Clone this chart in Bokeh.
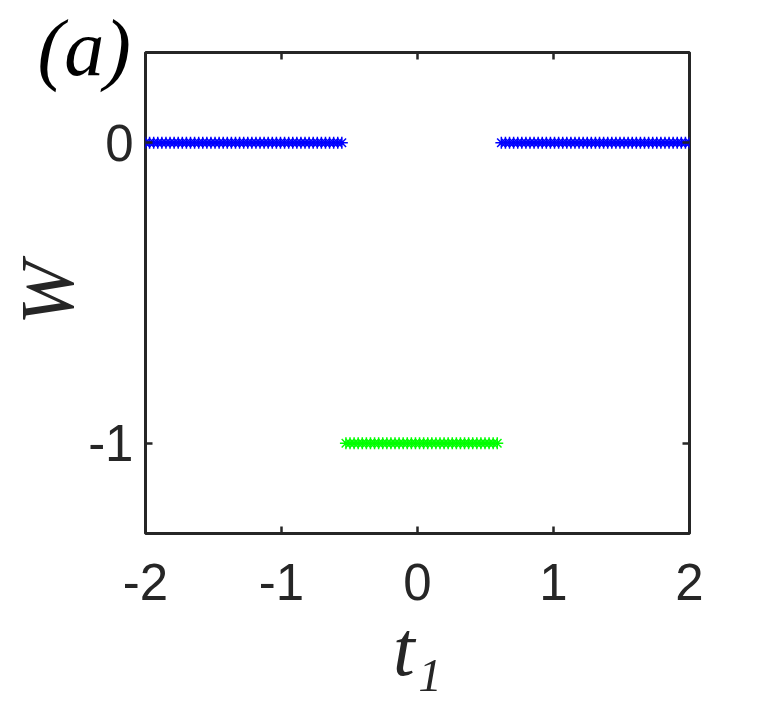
import numpy as np
from bokeh.plotting import figure
from bokeh.models import LinearAxis, FixedTicker, Range1d, Title
from bokeh.embed import file_html
from bokeh.resources import INLINE

# ---- data ----
t1_grid = np.linspace(-2.0, 2.0, 134)        # parameter sweep of t1
phase_edges = [-0.555, 0.595]                 # transitions between phases
w_left, w_mid, w_right = 0, -1, 0             # winding number in each phase
x_ticks = [-2, -1, 0, 1, 2]
x_tick_labels = {-2: "-2", -1: "-1", 0: "0", 1: "1", 2: "2"}
y_ticks = [-1, 0]
y_tick_labels = {-1: "-1", 0: "0"}
x_range = (-2, 2)
y_range = (-1.3, 0.3)

t_left = [t for t in t1_grid if t < phase_edges[0]]
t_mid = [t for t in t1_grid if phase_edges[0] <= t <= phase_edges[1]]
t_right = [t for t in t1_grid if t > phase_edges[1]]

W = 746
H = 705
FL, FR, FT, FB = 145, 689, 52, 533
p = figure(width=W, height=H, output_backend="svg", toolbar_location=None,
           x_range=Range1d(*x_range), y_range=Range1d(*y_range),
           x_axis_location=None, y_axis_location=None,
           min_border_left=FL, min_border_right=W - FR,
           min_border_top=FT, min_border_bottom=H - FB)
p.grid.visible = False
p.background_fill_color = "white"
p.border_fill_color = "white"
p.outline_line_color = "#262626"
p.outline_line_width = 3

ink = "#262626"
serif = "Liberation Serif"

def make_axis(ticks, labels, standoff):
    ax = LinearAxis(ticker=FixedTicker(ticks=ticks))
    ax.axis_line_color = None
    ax.major_tick_in = 7
    ax.major_tick_out = 0
    ax.major_tick_line_color = ink
    ax.major_tick_line_width = 2.5
    ax.minor_tick_line_color = None
    if labels is not None:
        ax.major_label_overrides = labels
        ax.major_label_text_font = "Liberation Sans"
        ax.major_label_text_font_size = "51px"
        ax.major_label_text_color = ink
        ax.major_label_standoff = standoff
    else:
        ax.major_label_text_font_size = "1px"
        ax.major_label_text_color = None
        ax.major_label_standoff = 0
    return ax

xb = make_axis(x_ticks, x_tick_labels, 30)
xb.axis_label = "t\u2081"
xb.axis_label_text_font = serif
xb.axis_label_text_font_style = "italic"
xb.axis_label_text_font_size = "78px"
xb.axis_label_text_color = ink
xb.axis_label_standoff = 2
p.add_layout(xb, "below")
p.add_layout(make_axis(x_ticks, None, 0), "above")

# panel tag (a) as a title hanging into the top-left corner
tag = Title(text="(a)", text_font=serif, text_font_style="italic",
            text_font_size="80px", text_color="black", align="left",
            offset=-108, standoff=-78)
p.add_layout(tag, "above")

yl = make_axis(y_ticks, y_tick_labels, 12)
yl.axis_label = "W"
yl.axis_label_text_font = serif
yl.axis_label_text_font_style = "italic"
yl.axis_label_text_font_size = "76px"
yl.axis_label_text_color = ink
yl.axis_label_standoff = -4
p.add_layout(yl, "left")
p.add_layout(make_axis(y_ticks, None, 0), "right")

p.scatter(t_left, [w_left] * len(t_left), marker="asterisk", size=12,
          line_color="#0000FF", line_width=1.5)
p.scatter(t_right, [w_right] * len(t_right), marker="asterisk", size=12,
          line_color="#0000FF", line_width=1.5)
p.scatter(t_mid, [w_mid] * len(t_mid), marker="asterisk", size=12,
          line_color="#00FF00", line_width=1.5)

open("out.html", "w").write(file_html(p, INLINE))
